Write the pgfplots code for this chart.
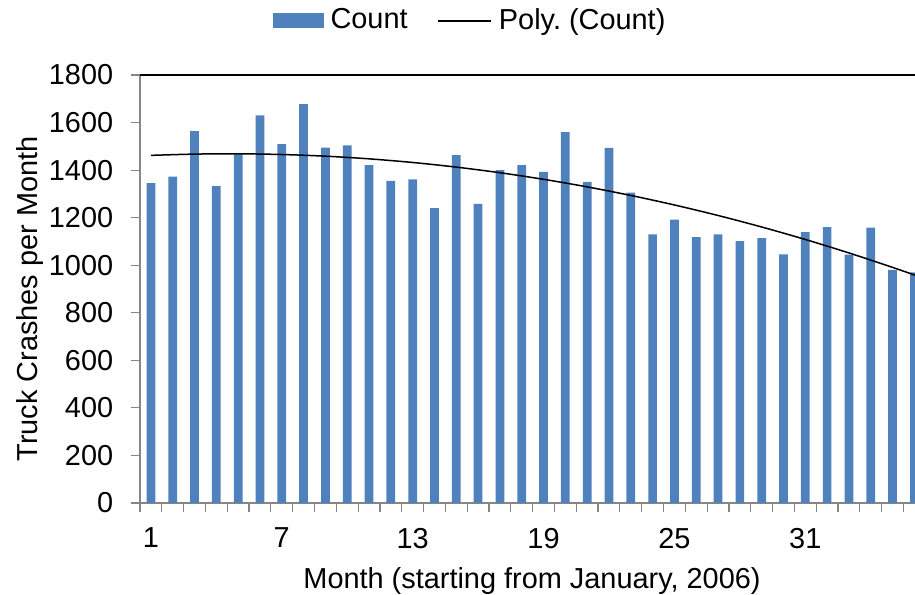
\documentclass[border=0pt]{standalone}
\usepackage{pgfplots}
\pgfplotsset{compat=1.18}
\usepackage{fontspec}
\setmainfont{Liberation Sans}
\definecolor{barblue}{HTML}{4F81BD}
\definecolor{axgray}{HTML}{868686}
\begin{document}
\fontsize{29}{34}\selectfont
\begin{tikzpicture}
\begin{axis}[name=ax, at={(0,0)}, anchor=south west,
  scale only axis, width=775bp, height=428bp,
  xmin=0.5, xmax=36.03, ymin=0, ymax=1800,
  axis x line*=bottom, axis y line*=left,
  axis line style={draw=axgray, line width=1.2bp},
  tick align=outside, major tick length=9bp,
  tick style={draw=axgray, line width=1.2bp},
  ytick={0,200,...,1800},
  yticklabel style={xshift=-8bp},
  xtick={0.5,1.5,...,35.5}, xticklabels={},
  extra x ticks={1,7,13,19,25,31},
  extra x tick labels={1,7,13,19,25,31},
  extra x tick style={major tick length=0pt, xticklabel style={yshift=-15bp}},
  /pgf/number format/assume math mode=true,
  /pgf/number format/1000 sep={},
  every axis y label/.style={at={(axis description cs:-0.1419,0.4766)}, rotate=90, anchor=center},
  every axis x label/.style={at={(axis description cs:0.5058,-0.1986)}, anchor=base},
  ylabel={Truck Crashes per Month},
  xlabel={Month (starting from January, 2006)},
  legend style={at={(axis description cs:0.4245,1)}, anchor=center, yshift=54bp, draw=none, fill=none,
    nodes={inner sep=0pt},
    /tikz/every odd column/.append style={column sep=7bp},
    /tikz/every even column/.append style={column sep=30bp}},
  legend columns=2,
]
\addplot[ybar, bar width=8.7bp, fill=barblue, draw=none,
  legend image code/.code={\fill[barblue] (0bp,-7.5bp) rectangle (51bp,7.5bp);}]
table {
x y
1 1345
2 1373
3 1564
4 1333
5 1466
6 1630
7 1509
8 1677
9 1495
10 1504
11 1421
12 1355
13 1361
14 1240
15 1463
16 1258
17 1400
18 1421
19 1393
20 1560
21 1351
22 1494
23 1305
24 1130
25 1192
26 1118
27 1130
28 1101
29 1114
30 1046
31 1139
32 1160
33 1045
34 1158
35 980
36 970
};
\addlegendentry{Count}
\addplot[black, line width=1.5bp, smooth, no markers,
  legend image code/.code={\draw[black, line width=1.3bp] (0bp,0bp) -- (53bp,0bp);}]
table {
x y
1 1462.0
3 1467.3
5 1468.6
7 1465.6
9 1458.6
11 1447.4
13 1432.1
15 1412.6
17 1389.0
19 1361.3
21 1329.5
23 1293.5
25 1253.4
27 1209.2
29 1160.8
31 1108.3
33 1051.7
35 990.9
36.03 958.0
};
\addlegendentry{Poly.\ (Count)}
\draw[black, line width=1.3bp] (rel axis cs:0,1) -- (rel axis cs:1,1);
\end{axis}
\pgfresetboundingbox
\path ([shift={(-140bp,-92bp)}]ax.south west) rectangle ([shift={(0bp,75bp)}]ax.north east);
\end{tikzpicture}
\end{document}
